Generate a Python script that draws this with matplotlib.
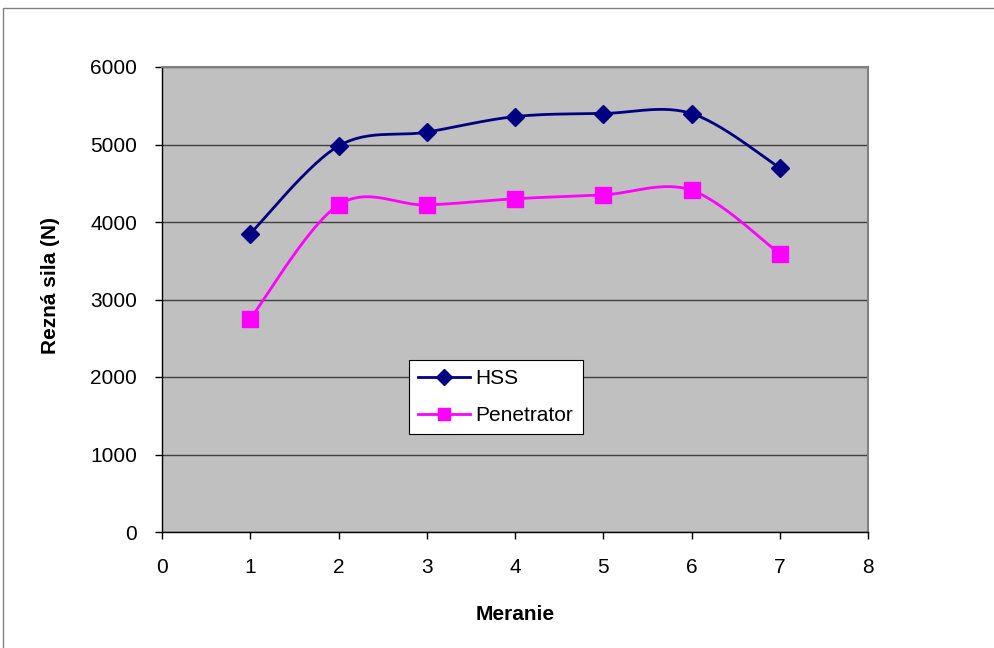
import numpy as np
import matplotlib.pyplot as plt
from matplotlib.patches import Rectangle

plt.rcParams['font.family'] = ['Liberation Sans', 'DejaVu Sans']

meranie = [1, 2, 3, 4, 5, 6, 7]
hss = [3850, 4980, 5160, 5360, 5400, 5400, 4700]
penetrator = [2750, 4220, 4220, 4300, 4350, 4410, 3590]


def excel_smooth(x, y, n=30):
    # Excel-style smoothed line: cubic Bezier with tangents from neighbours
    x = np.asarray(x, float)
    y = np.asarray(y, float)
    px, py = [x[0]], [y[0]]
    for i in range(len(x) - 1):
        x0, y0 = (x[i - 1], y[i - 1]) if i > 0 else (x[i], y[i])
        x3, y3 = (x[i + 2], y[i + 2]) if i + 2 < len(x) else (x[i + 1], y[i + 1])
        c1x = x[i] + (x[i + 1] - x0) / 6
        c1y = y[i] + (y[i + 1] - y0) / 6
        c2x = x[i + 1] - (x3 - x[i]) / 6
        c2y = y[i + 1] - (y3 - y[i]) / 6
        t = np.linspace(0, 1, n)[1:]
        bx = (1-t)**3*x[i] + 3*(1-t)**2*t*c1x + 3*(1-t)*t**2*c2x + t**3*x[i+1]
        by = (1-t)**3*y[i] + 3*(1-t)**2*t*c1y + 3*(1-t)*t**2*c2y + t**3*y[i+1]
        px.extend(bx)
        py.extend(by)
    return np.array(px), np.array(py)


fig = plt.figure(figsize=(9.94, 6.48), dpi=100)
fig.patches.append(Rectangle((3 / 994, -0.01), 1.1, 1 - 8 / 648 + 0.01,
                             transform=fig.transFigure, fill=False,
                             edgecolor='#808080', linewidth=1))
ax = fig.add_axes([162 / 994, 1 - 532 / 648, (868 - 162) / 994, (532 - 67) / 648])
ax.set_facecolor('#c0c0c0')

ax.set_xlim(0, 8)
ax.set_ylim(0, 6000)
ax.set_xticks(range(0, 9))
ax.set_yticks(range(0, 6001, 1000))
ax.grid(axis='y', color='#404040', linewidth=1)
ax.set_axisbelow(True)

for s in ['top', 'right']:
    ax.spines[s].set_color('#808080')
    ax.spines[s].set_linewidth(1.5)
for s in ['left', 'bottom']:
    ax.spines[s].set_color('#000000')
    ax.spines[s].set_linewidth(1)

ax.tick_params(direction='out', length=5, width=1, labelsize=15)
ax.tick_params(axis='x', pad=14)
ax.tick_params(axis='y', pad=13)

sx, sy = excel_smooth(meranie, hss)
ax.plot(sx, sy, color='#000080', linewidth=2)
ax.plot(meranie, hss, linestyle='none', marker='D', markersize=9,
        color='#000080')
sx, sy = excel_smooth(meranie, penetrator)
ax.plot(sx, sy, color='#ff00ff', linewidth=2)
ax.plot(meranie, penetrator, linestyle='none', marker='s', markersize=11,
        color='#ff00ff')

ax.plot([], [], color='#000080', linewidth=2, marker='D', markersize=8, label='HSS')
ax.plot([], [], color='#ff00ff', linewidth=2, marker='s', markersize=9, label='Penetrator')
leg = ax.legend(loc='upper left', bbox_to_anchor=((409 - 162) / 706, (532 - 360) / 465),
                fontsize=15, frameon=True, fancybox=False, framealpha=1,
                edgecolor='#000000', borderpad=0.45, labelspacing=0.85,
                handlelength=2.5, handletextpad=0.25, borderaxespad=0)
leg.get_frame().set_linewidth(0.8)

ax.set_xlabel('Meranie', fontsize=15, fontweight='bold', labelpad=20)
ax.set_ylabel('Rezná sila (N)', fontsize=15, fontweight='bold', labelpad=22)
ax.yaxis.label.set_y((532 - 286) / 465)

fig.savefig('out.png', dpi=100)
